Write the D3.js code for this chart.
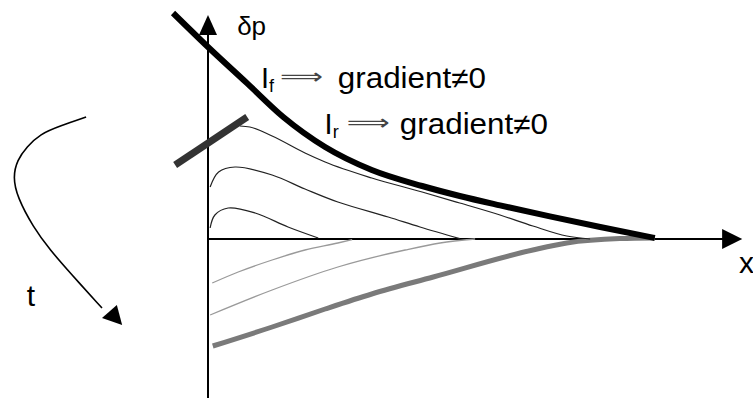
<!DOCTYPE html>
<html><head><meta charset="utf-8">
<script src="https://cdn.jsdelivr.net/npm/d3@7"></script>
<style>html,body{margin:0;padding:0;background:#fff;overflow:hidden}</style>
</head><body>
<svg id="c" width="753" height="398"></svg>
<script>
// ---- data (x: distance units, v: δp units) ----
const curveIf = [[-0.66,11.3],[0,9.6],[0.74,7.78],[1.42,6.1],[2.21,4.6],[3.09,3.45],[4.04,2.65],[4.75,2.15],[5.51,1.68],[6.45,1.13],[7.40,0.6],[8.43,0.05]];
const curveR1 = [[0.60,5.65],[0.79,5.6],[1.21,5.15],[1.83,4.3],[2.21,3.85],[3.09,3.05],[4.04,2.35],[4.75,1.8],[5.51,1.2],[6.13,0.65],[6.77,0.15],[7.21,0]];
const curveR2 = [[0.04,2.6],[0.2,3.35],[0.51,3.6],[1.21,3.2],[1.83,2.5],[2.45,1.85],[3.40,1.1],[4.0,0.6],[4.75,0.02]];
const curveR3 = [[0.04,0.55],[0.13,1.2],[0.38,1.55],[0.89,1.3],[1.51,0.6],[2.08,0.05]];
const curveNA = [[0.08,-2.2],[0.57,-1.65],[1.21,-1.05],[1.83,-0.55],[2.45,-0.2],[2.72,-0.03]];
const curveNB = [[0.04,-3.8],[1.21,-2.55],[2.45,-1.4],[3.72,-0.55],[4.38,-0.2],[5.04,0]];
const curveNC = [[0.09,-5.35],[1.21,-4.4],[2.21,-3.5],[3.09,-2.75],[4.25,-1.9],[6.13,-0.55],[6.77,-0.2],[7.77,0.02],[8.43,0.05]];
const boundarySeg = [[-0.62,3.7],[0.74,6.1]];
const timeArrow = [[-2.30,6.1],[-2.79,5.65],[-3.17,5.25],[-3.42,4.6],[-3.60,3.95],[-3.68,3.1],[-3.60,2.1],[-3.30,0.6],[-2.98,-0.55],[-2.60,-1.7],[-2.0,-3.45]];
const timeHead = [[-1.62,-4.3],[-2.0,-3.95],[-1.72,-3.3]];
const labels = [
  {text:"δp", x:0.55, v:10.2, size:26},
  {text:"t", x:-3.42, v:-3.35, size:30},
  {text:"x", x:10.02, v:-1.7, size:30}
];
const gradLabels = [
  {sub:"f", x:1.0, v:7.55, ax:1.36, gx:2.45},
  {sub:"r", x:2.2, v:5.25, ax:2.62, gx:3.62}
];

// ---- scales ----
const W=753,H=398;
const x = d3.scaleLinear().domain([0,10]).range([208,738]);
const y = d3.scaleLinear().domain([-8,12]).range([399,-1]);
const svg = d3.select("#c");
svg.append("rect").attr("width",W).attr("height",H).attr("fill","#fff");
const line = d3.line().x(d=>x(d[0])).y(d=>y(d[1]));
const smooth = d3.line().x(d=>x(d[0])).y(d=>y(d[1])).curve(d3.curveMonotoneX);
const cat = d3.line().x(d=>x(d[0])).y(d=>y(d[1])).curve(d3.curveCatmullRom.alpha(0.5));

// axes
svg.append("line").attr("x1",x(0)).attr("x2",x(0)).attr("y1",y(-8)).attr("y2",y(10.4))
  .attr("stroke","#000").attr("stroke-width",2);
svg.append("path").attr("d",line([[0,11.2],[-0.17,10.2],[0.17,10.2]])+"Z").attr("fill","#000");
svg.append("line").attr("x1",x(0)).attr("x2",x(9.8)).attr("y1",y(0)).attr("y2",y(0))
  .attr("stroke","#000").attr("stroke-width",2);
svg.append("path").attr("d",line([[10.08,0],[9.70,0.5],[9.70,-0.5]])+"Z").attr("fill","#000");

// negative (gray) curves
svg.append("path").attr("d",smooth(curveNA)).attr("fill","none").attr("stroke","#9a9a9a").attr("stroke-width",1.3);
svg.append("path").attr("d",smooth(curveNB)).attr("fill","none").attr("stroke","#9a9a9a").attr("stroke-width",1.3);
svg.append("path").attr("d",smooth(curveNC)).attr("fill","none").attr("stroke","#7a7a7a").attr("stroke-width",5);

// positive thin curves
svg.append("path").attr("d",smooth(curveR1)).attr("fill","none").attr("stroke","#222").attr("stroke-width",1.2);
[curveR2,curveR3].forEach(c=>{
  svg.append("path").attr("d",cat(c)).attr("fill","none").attr("stroke","#222").attr("stroke-width",1.2);
});
// thick I_f curve
svg.append("path").attr("d",smooth(curveIf)).attr("fill","none").attr("stroke","#000").attr("stroke-width",6).attr("stroke-linecap","butt");
// boundary segment
svg.append("path").attr("d",line(boundarySeg)).attr("stroke","#333").attr("stroke-width",7);

// time arrow
svg.append("path").attr("d",d3.line().x(d=>x(d[0])).y(d=>y(d[1])).curve(d3.curveBasis)(timeArrow))
  .attr("fill","none").attr("stroke","#000").attr("stroke-width",1.6);
svg.append("path").attr("d",line(timeHead)+"Z").attr("fill","#000");

// labels
const FF = "'Liberation Sans', Arial, Helvetica, sans-serif";
labels.forEach(l=>{
  svg.append("text").attr("x",x(l.x)).attr("y",y(l.v)).attr("font-family",FF)
    .attr("font-size",l.size).attr("fill","#000").text(l.text);
});
gradLabels.forEach(g=>{
  const t = svg.append("text").attr("x",x(g.x)).attr("y",y(g.v)).attr("font-family",FF)
    .attr("font-size",29).attr("fill","#000");
  t.append("tspan").text("I");
  t.append("tspan").attr("font-size",18).attr("dy",4).text(g.sub);
  svg.append("text").attr("x",x(g.ax)).attr("y",y(g.v)-4).attr("font-family","'DejaVu Sans', sans-serif")
    .attr("font-size",22).attr("fill","#444").attr("textLength",43).attr("lengthAdjust","spacingAndGlyphs").text("⟹");
  svg.append("text").attr("x",x(g.gx)).attr("y",y(g.v)).attr("font-family",FF)
    .attr("font-size",29).attr("fill","#000").attr("textLength",148).attr("lengthAdjust","spacingAndGlyphs").text("gradient≠0");
});
</script>
</body></html>
